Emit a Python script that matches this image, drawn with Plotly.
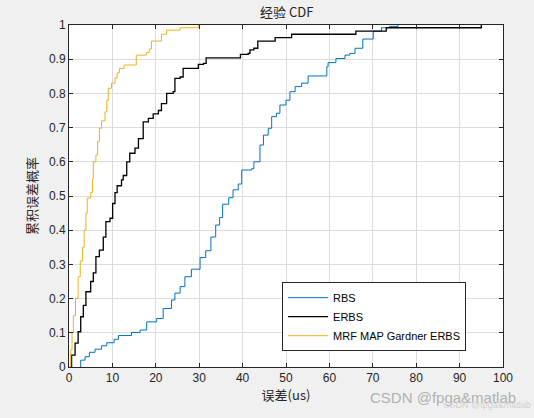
import plotly.graph_objects as go

# step points (x where the CDF jumps, new y value)
rbs_x = [2.5, 2.7, 3.7, 4.7, 6.0, 7.5, 8.7, 10.4, 11.4, 14.4, 16.4, 17.9, 20.2, 21.7, 23.6,
         24.4, 25.6, 26.7, 28.2, 30.2, 31.5, 32.7, 33.8, 34.7, 35.4, 36.8, 37.8, 39.0, 39.8, 42.1,
         42.6, 44.0, 44.8, 45.9, 46.7, 47.8, 48.6, 50.0, 50.9, 52.1, 53.6, 55.1, 59.4, 59.7, 61.5,
         63.6, 64.7, 65.9, 67.7, 70.1, 72.0, 73.8, 75.8]
rbs_y = [0.0, 0.02, 0.03, 0.043, 0.052, 0.062, 0.071, 0.081, 0.092, 0.101, 0.108, 0.132, 0.142, 0.171, 0.196,
         0.216, 0.235, 0.264, 0.286, 0.32, 0.34, 0.38, 0.415, 0.437, 0.476, 0.495, 0.518, 0.535, 0.576, 0.58,
         0.60, 0.649, 0.678, 0.698, 0.732, 0.742, 0.766, 0.78, 0.805, 0.82, 0.83, 0.851, 0.878, 0.89, 0.902,
         0.912, 0.917, 0.932, 0.959, 0.982, 0.992, 0.996, 1.0]

erbs_x = [0.2, 0.6, 1.4, 2.1, 2.7, 3.3, 3.9, 5.0, 5.6, 6.2, 7.0, 7.9, 8.5, 9.45, 10.05,
          10.6, 11.1, 12.1, 12.5, 13.3, 14.0, 15.2, 16.0, 17.1, 18.3, 19.4, 20.6, 21.3, 22.5, 24.0,
          24.4, 25.6, 26.3, 29.8, 31.0, 31.6, 39.5, 41.3, 41.7, 42.6, 43.5, 47.5, 51.3, 66.1, 73.1, 95.0]
erbs_y = [0.0, 0.035, 0.07, 0.103, 0.147, 0.18, 0.22, 0.25, 0.275, 0.323, 0.342, 0.38, 0.425, 0.435, 0.478,
          0.51, 0.53, 0.547, 0.56, 0.60, 0.625, 0.64, 0.668, 0.717, 0.727, 0.74, 0.75, 0.77, 0.80, 0.805,
          0.844, 0.848, 0.873, 0.885, 0.888, 0.904, 0.914, 0.917, 0.927, 0.932, 0.953, 0.963, 0.973, 0.982, 0.992, 1.0]

gardner_x = [0.2, 0.4, 0.7, 1.0, 1.5, 2.1, 2.6, 3.1, 3.5, 3.9, 4.2, 5.0, 5.4, 5.6, 6.2,
             6.6, 7.0, 7.5, 8.3, 8.7, 9.05, 9.8, 10.6, 11.1, 11.6, 12.7, 15.5, 17.9, 18.5, 19.0,
             21.3, 22.5, 25.6, 29.8]
gardner_y = [0.0, 0.05, 0.1, 0.15, 0.2, 0.264, 0.31, 0.35, 0.40, 0.45, 0.494, 0.51, 0.55, 0.60, 0.62,
             0.66, 0.698, 0.72, 0.746, 0.78, 0.815, 0.83, 0.845, 0.86, 0.873, 0.883, 0.912, 0.92, 0.93, 0.953,
             0.973, 0.985, 0.992, 1.0]

x_ticks = list(range(0, 101, 10))
y_ticks = [i / 10 for i in range(11)]
y_ticklabels = ['0'] + ['%.1f' % v for v in y_ticks[1:-1]] + ['1']

fig = go.Figure()
fig.add_trace(go.Scatter(x=rbs_x, y=rbs_y, mode='lines', name='RBS',
                         line=dict(color='#0072BD', width=1, shape='hv')))
fig.add_trace(go.Scatter(x=erbs_x, y=erbs_y, mode='lines', name='ERBS',
                         line=dict(color='#000000', width=1.3, shape='hv')))
fig.add_trace(go.Scatter(x=gardner_x, y=gardner_y, mode='lines', name='MRF MAP Gardner ERBS',
                         line=dict(color='#EDB120', width=1, shape='hv')))

axis_common = dict(showline=True, linecolor='#262626', linewidth=1, mirror='ticks',
                   ticks='inside', ticklen=4, tickcolor='#262626',
                   showgrid=True, gridcolor='#dcdcdc', gridwidth=1, zeroline=False,
                   tickfont=dict(family='Liberation Sans, Arial', size=12, color='#262626'))

fig.update_xaxes(range=[0, 100], tickvals=x_ticks,
                 title=dict(text='误差(us)', standoff=6,
                            font=dict(family='Noto Sans CJK SC', size=13, color='#262626')),
                 **axis_common)
fig.update_yaxes(range=[0, 1], tickvals=y_ticks, ticktext=y_ticklabels,
                 title=dict(text='累积误差概率', standoff=8,
                            font=dict(family='Noto Sans CJK SC', size=13, color='#262626')),
                 **axis_common)

fig.update_layout(
    width=534, height=418,
    margin=dict(l=69, r=31, t=25, b=51),
    paper_bgcolor='#f0f0f0', plot_bgcolor='#ffffff',
    title=dict(text='经验 CDF', x=0.537, xanchor='center', y=0.97, yanchor='middle',
               font=dict(family='Noto Sans CJK SC', size=13, color='#262626')),
    legend=dict(x=0.491, y=0.248, xanchor='left', yanchor='top',
                bgcolor='#ffffff', bordercolor='#262626', borderwidth=1,
                font=dict(family='Liberation Sans, Arial', size=11, color='#000000'),
                tracegroupgap=0, itemwidth=40),
    showlegend=True,
)

# watermark seen in the bottom right
fig.add_annotation(text='CSDN @fpga&matlab', xref='paper', yref='paper',
                   x=1.035, y=-0.09, xanchor='right', yanchor='middle', showarrow=False,
                   font=dict(family='Liberation Sans, Arial', size=15, color='#b0b0b0'))
fig.add_annotation(text='CSDN @fpga&matlab', xref='paper', yref='paper',
                   x=1.069, y=-0.112, xanchor='right', yanchor='middle', showarrow=False,
                   font=dict(family='Liberation Sans, Arial', size=9, color='#d0d0d0'))

# drop the page's default 8px body margin so the figure sits at the top-left corner
fig.write_html("out.html", config={'displayModeBar': False},
               post_script="document.body.style.margin='0px';")
